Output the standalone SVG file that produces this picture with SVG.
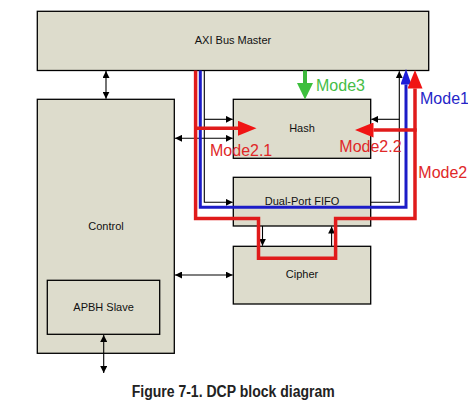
<svg xmlns="http://www.w3.org/2000/svg" width="468" height="406" viewBox="0 0 468 406">
<style>
.box{fill:#dddccc;stroke:#000;stroke-width:1.3}
.lbl{font-family:"Liberation Sans",Arial,sans-serif;font-size:11px;fill:#111;text-anchor:middle}
.mode{font-family:"Liberation Sans",Arial,sans-serif;font-size:16px}
.blk{fill:none;stroke:#000;stroke-width:1.1}
.red{fill:none;stroke:#e01b1b;stroke-width:3.5;stroke-linejoin:miter}
.blue{fill:none;stroke:#1c1cc8;stroke-width:3;stroke-linejoin:miter}
.green{fill:none;stroke:#3cb93c;stroke-width:4}
</style>
<defs>
<marker id="ah" markerUnits="userSpaceOnUse" markerWidth="8" markerHeight="7" refX="7" refY="3.5" orient="auto-start-reverse">
<path d="M0,0 L7,3.5 L0,7 z" fill="#000"/>
</marker>
<marker id="ahRed" markerUnits="userSpaceOnUse" markerWidth="19" markerHeight="15" refX="0" refY="7.5" orient="auto">
<path d="M0,0 L18.5,7.5 L0,15 z" fill="#f01414"/>
</marker>
<marker id="ahBlue" markerUnits="userSpaceOnUse" markerWidth="16" markerHeight="11" refX="0" refY="5.5" orient="auto">
<path d="M0,0 L15.5,5.5 L0,11 z" fill="#1c1cd8"/>
</marker>
<marker id="ahGreen" markerUnits="userSpaceOnUse" markerWidth="17" markerHeight="16" refX="0" refY="8" orient="auto">
<path d="M0,0 L16.5,8 L0,16 z" fill="#3cbf3c"/>
</marker>
</defs>
<rect width="468" height="406" fill="#fff"/>

<g id="axi">
<rect class="box" x="37.3" y="11.3" width="391.4" height="59.2"/>
<text class="lbl" x="233" y="44">AXI Bus Master</text>
</g>
<g id="control">
<rect class="box" x="37.3" y="99.3" width="137" height="254"/>
<text class="lbl" x="106" y="230">Control</text>
</g>
<g id="apbh">
<rect class="box" x="47.3" y="280.3" width="112.4" height="54"/>
<text class="lbl" x="103.6" y="310.7">APBH Slave</text>
</g>
<g id="hash">
<rect class="box" x="233.3" y="99.3" width="137.4" height="59"/>
<text class="lbl" x="302" y="131.5">Hash</text>
</g>
<g id="fifo">
<rect class="box" x="233.3" y="177.3" width="137.4" height="48.7"/>
<text class="lbl" x="302" y="205">Dual-Port FIFO</text>
</g>
<g id="cipher">
<rect class="box" x="233.3" y="246.3" width="137.4" height="57.7"/>
<text class="lbl" x="302" y="278.3">Cipher</text>
</g>

<g id="connectors">
<line class="blk" x1="106" y1="71" x2="106" y2="98.7" marker-start="url(#ah)" marker-end="url(#ah)"/>
<line class="blk" x1="175" y1="138.3" x2="232.7" y2="138.3" marker-start="url(#ah)" marker-end="url(#ah)"/>
<line class="blk" x1="175" y1="275" x2="232.7" y2="275" marker-start="url(#ah)" marker-end="url(#ah)"/>
<line class="blk" x1="103.7" y1="335" x2="103.7" y2="373" marker-start="url(#ah)" marker-end="url(#ah)"/>
<polyline class="blk" points="204.3,70.5 204.3,202.3 232.7,202.3" marker-end="url(#ah)"/>
<line class="blk" x1="204.3" y1="119.3" x2="232.7" y2="119.3" marker-end="url(#ah)"/>
<polyline class="blk" points="370.7,202.3 399.3,202.3 399.3,71.2" marker-end="url(#ah)"/>
<line class="blk" x1="399.3" y1="119.3" x2="371.3" y2="119.3" marker-end="url(#ah)"/>
<line class="blk" x1="262.5" y1="226" x2="262.5" y2="245.7" marker-end="url(#ah)"/>
<line class="blk" x1="331.6" y1="246.3" x2="331.6" y2="226.6" marker-end="url(#ah)"/>

<polyline class="blue" points="200.3,70.5 200.3,207.3 406,207.3 406,84.5" marker-end="url(#ahBlue)"/>
<polyline class="red" points="195.6,70.5 195.6,218.6 258.5,218.6 258.5,258.3 335.6,258.3 335.6,218.6 415,218.6 415,88.5" marker-end="url(#ahRed)"/>
<line class="red" x1="194" y1="128.3" x2="238" y2="128.3" marker-end="url(#ahRed)"/>
<line class="red" x1="416.7" y1="130" x2="373.5" y2="130" marker-end="url(#ahRed)"/>
<line class="green" x1="305" y1="70.5" x2="305" y2="83" marker-end="url(#ahGreen)"/>
</g>

<g id="labels">
<text class="mode" x="316" y="90.5" fill="#46bd46">Mode3</text>
<text class="mode" x="420" y="103.5" fill="#2626c8">Mode1</text>
<text class="mode" x="210" y="156" fill="#e02828">Mode2.1</text>
<text class="mode" x="339.3" y="152" fill="#e02828">Mode2.2</text>
<text class="mode" x="418.3" y="178" fill="#e02828">Mode2</text>
</g>
<text x="131.7" y="396.5" font-family="'Liberation Sans',Arial,sans-serif" font-weight="bold" font-size="16" fill="#222" textLength="203" lengthAdjust="spacingAndGlyphs">Figure 7-1. DCP block diagram</text>
</svg>
